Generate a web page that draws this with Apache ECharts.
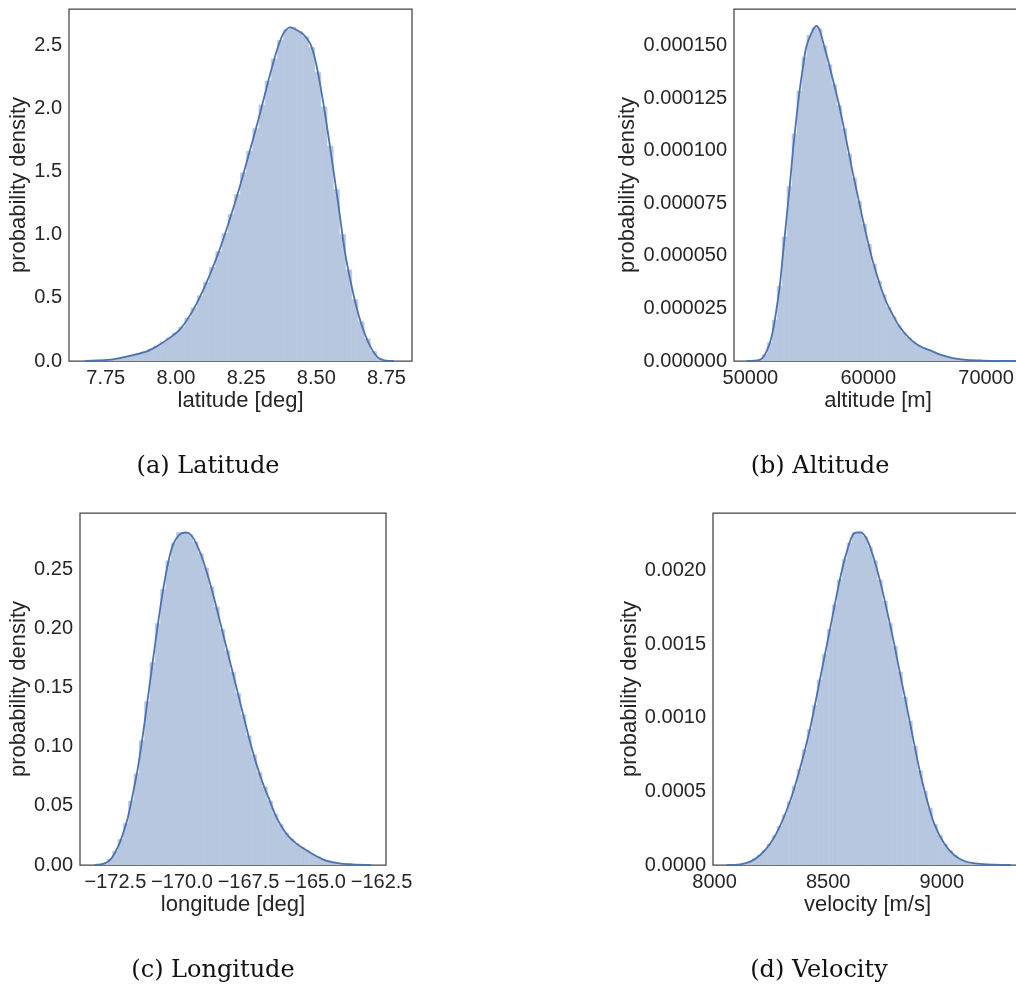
<!DOCTYPE html>
<html>
<head>
<meta charset="utf-8">
<script src="https://cdn.jsdelivr.net/npm/echarts@6/dist/echarts.min.js"></script>
<style>
html,body{margin:0;padding:0;background:#fff;}
#chart{width:1016px;height:992px;}
</style>
</head>
<body>
<div id="chart"></div>
<script>
// ---------------- DATA ----------------
// (a) Latitude
const latBinStart = 7.68, latBinWidth = 0.022;
const latHist = [0.002,0.004,0.007,0.010,0.014,0.022,0.034,0.046,0.058,0.071,0.093,0.118,0.150,0.183,0.222,0.268,0.340,0.420,0.515,0.623,0.740,0.865,1.008,1.160,1.317,1.488,1.660,1.838,2.025,2.215,2.390,2.535,2.620,2.640,2.605,2.565,2.480,2.285,2.010,1.700,1.355,1.000,0.720,0.485,0.310,0.175,0.075,0.022,0.004,0.001];
const latKdeX = [7.676,7.72,7.776,7.823,7.894,7.929,7.970,8.012,8.047,8.083,8.118,8.153,8.189,8.224,8.259,8.295,8.330,8.360,8.383,8.407,8.430,8.454,8.478,8.495,8.513,8.531,8.554,8.578,8.601,8.625,8.649,8.672,8.696,8.719,8.743,8.778];
const latKdeY = [0.000,0.004,0.013,0.034,0.074,0.113,0.171,0.245,0.351,0.496,0.667,0.865,1.102,1.353,1.630,1.920,2.223,2.460,2.592,2.640,2.619,2.584,2.513,2.395,2.197,1.959,1.617,1.247,0.878,0.601,0.377,0.219,0.100,0.029,0.005,0.000];
const latXTicks = [7.75,8.00,8.25,8.50,8.75];
const latYTicks = [0,0.5,1.0,1.5,2.0,2.5];

// (b) Altitude
const altBinStart = 50600, altBinWidth = 420;
const altHist = [0.5e-6,3.0e-6,8.6e-6,19.5e-6,35.6e-6,59e-6,83e-6,108e-6,128.5e-6,144.5e-6,155e-6,158.5e-6,158e-6,150e-6,141e-6,131.5e-6,121.5e-6,110.5e-6,98.5e-6,87e-6,76e-6,65e-6,55.5e-6,46e-6,38e-6,31.5e-6,25.5e-6,21e-6,17e-6,13.5e-6,11e-6,9.2e-6,7.5e-6,6.2e-6,5.4e-6,4.3e-6,3.4e-6,2.6e-6,2.0e-6,1.4e-6,1.0e-6,0.7e-6,0.5e-6,0.4e-6,0.3e-6,0.2e-6,0.15e-6,0.1e-6,0.05e-6,0.03e-6];
const altKdeX = [49661,50791,51215,51638,51921,52203,52486,52768,53051,53333,53616,53898,54181,54463,54746,55169,55593,55876,56158,56582,57006,57429,57853,58277,58701,59124,59548,59972,60395,60960,61525,62090,62655,63503,64350,65198,66045,67175,68305,69718,71977,73000];
const altKdeY = [0,0.5e-6,2.9e-6,8.4e-6,14.7e-6,24.3e-6,35.4e-6,51.2e-6,67.1e-6,82.9e-6,100.4e-6,115.4e-6,128.9e-6,140.0e-6,149.5e-6,155.9e-6,159.4e-6,157.5e-6,151.9e-6,143.2e-6,133.7e-6,124.2e-6,113.1e-6,101.2e-6,89.3e-6,78.2e-6,67.1e-6,56.8e-6,47.3e-6,36.9e-6,28.2e-6,21.9e-6,16.3e-6,10.8e-6,7.1e-6,5.2e-6,3.2e-6,1.4e-6,0.5e-6,0.2e-6,0,0];
const altXTicks = [50000,60000,70000];
const altYTicks = [0,0.000025,0.00005,0.000075,0.0001,0.000125,0.00015];

// (c) Longitude
const lonBinStart = -173.0, lonBinWidth = 0.2;
const lonHist = [0.0014,0.0048,0.0115,0.0215,0.035,0.054,0.077,0.105,0.138,0.171,0.204,0.233,0.257,0.272,0.281,0.281,0.279,0.273,0.263,0.251,0.235,0.218,0.199,0.181,0.163,0.145,0.127,0.109,0.093,0.078,0.066,0.054,0.043,0.034,0.027,0.022,0.018,0.015,0.012,0.009,0.007,0.005,0.0035,0.0025,0.0015,0.001,0.0007,0.0004,0.0002,0.0001];
const lonKdeX = [-173.275,-172.9,-172.65,-172.4,-172.21,-172.025,-171.84,-171.65,-171.46,-171.275,-171.09,-170.9,-170.71,-170.525,-170.34,-170.09,-169.84,-169.65,-169.46,-169.21,-168.96,-168.71,-168.46,-168.21,-167.96,-167.71,-167.46,-167.21,-166.96,-166.71,-166.46,-166.09,-165.71,-165.34,-164.96,-164.59,-164.09,-163.59,-162.9];
const lonKdeY = [0,0.0014,0.0056,0.0155,0.0267,0.0408,0.0605,0.0830,0.1112,0.1422,0.1731,0.2041,0.2323,0.2548,0.2703,0.2793,0.2810,0.2787,0.2717,0.2576,0.2393,0.2182,0.1957,0.1731,0.1506,0.1281,0.1056,0.0859,0.0690,0.0549,0.0408,0.0267,0.0183,0.0127,0.0076,0.0037,0.0014,0.0006,0];
const lonXTicks = [-172.5,-170.0,-167.5,-165.0,-162.5];
const lonYTicks = [0,0.05,0.10,0.15,0.20,0.25];

// (d) Velocity
const velBinStart = 8100, velBinWidth = 22;
const velHist = [4e-6,11e-6,21e-6,41e-6,66e-6,100e-6,142e-6,199e-6,262e-6,342e-6,429e-6,536e-6,650e-6,783e-6,920e-6,1083e-6,1256e-6,1430e-6,1600e-6,1767e-6,1937e-6,2075e-6,2185e-6,2255e-6,2262e-6,2230e-6,2160e-6,2065e-6,1935e-6,1790e-6,1640e-6,1485e-6,1310e-6,1140e-6,975e-6,805e-6,640e-6,500e-6,385e-6,275e-6,200e-6,142e-6,98e-6,64e-6,40e-6,24e-6,15e-6,9e-6,5e-6,2e-6];
const velKdeX = [8054,8113,8157,8201,8246,8290,8334,8378,8422,8466,8510,8554,8584,8613,8643,8672,8701,8731,8760,8790,8819,8849,8878,8907,8937,8966,9010,9054,9099,9157,9231,9304];
const velKdeY = [0,4.5e-6,22.6e-6,67.9e-6,147e-6,271e-6,441e-6,667e-6,939e-6,1278e-6,1618e-6,1957e-6,2138e-6,2251e-6,2258e-6,2206e-6,2081e-6,1912e-6,1719e-6,1505e-6,1278e-6,1052e-6,826e-6,611e-6,430e-6,283e-6,147e-6,67.9e-6,27.1e-6,9e-6,2.3e-6,0];
const velXTicks = [8000,8500,9000];
const velYTicks = [0,0.0005,0.0010,0.0015,0.0020];

const captions = ['(a) Latitude','(b) Altitude','(c) Longitude','(d) Velocity'];
const xNames = ['latitude [deg]','altitude [m]','longitude [deg]','velocity [m/s]'];
const yName = 'probability density';

// ---------------- STYLE / LAYOUT ----------------
const LINE = '#4C72B0';
const FILL = '#b7c7df';
const TXT = '#262626';
const FONT = "'Liberation Sans', Arial, sans-serif";
const TICK_FS = 20, NAME_FS = 22;

const panels = [
  {grid:{left:69, top:9, width:343, height:352}, xMin:7.619, xMax:8.841, yMax:2.785,
   xT:latXTicks, yT:latYTicks, xF:v=>v.toFixed(2), yF:v=>v.toFixed(1), nameGapY:38,
   bs:latBinStart, bw:latBinWidth, h:latHist, kx:latKdeX, ky:latKdeY},
  {grid:{left:734, top:9, width:288, height:352}, xMin:48607, xMax:73050, yMax:0.0001675,
   xT:altXTicks, yT:altYTicks, xF:v=>String(v), yF:v=>v.toFixed(6), nameGapY:95,
   bs:altBinStart, bw:altBinWidth, h:altHist, kx:altKdeX, ky:altKdeY},
  {grid:{left:80, top:513, width:306, height:352}, xMin:-173.83, xMax:-162.335, yMax:0.2975,
   xT:lonXTicks, yT:lonYTicks, xF:v=>v.toFixed(1).replace('-','\u2212'), yF:v=>v.toFixed(2), nameGapY:48,
   bs:lonBinStart, bw:lonBinWidth, h:lonHist, kx:lonKdeX, ky:lonKdeY},
  {grid:{left:713, top:513, width:309, height:352}, xMin:7993, xMax:9353, yMax:0.00239,
   xT:velXTicks, yT:velYTicks, xF:v=>String(v), yF:v=>v.toFixed(4), nameGapY:72,
   bs:velBinStart, bw:velBinWidth, h:velHist, kx:velKdeX, ky:velKdeY}
];
const captionPos = [[208,467],[820,467],[213,971],[819,971]];

const option = {
  animation:false,
  backgroundColor:'#fff',
  grid:[], xAxis:[], yAxis:[], series:[],
  graphic:[]
};

panels.forEach((p,i)=>{
  option.grid.push(Object.assign({show:true, borderColor:'#444', borderWidth:1.25, backgroundColor:'transparent', containLabel:false, outerBoundsMode:'none'}, p.grid));
  option.xAxis.push({
    type:'value', gridIndex:i, min:p.xMin, max:p.xMax,
    name:xNames[i], nameLocation:'middle', nameGap:29,
    nameTextStyle:{fontSize:NAME_FS, color:TXT, fontFamily:FONT},
    axisLine:{show:false}, axisTick:{show:false}, splitLine:{show:false},
    axisLabel:{customValues:p.xT, formatter:p.xF, fontSize:TICK_FS, color:TXT, fontFamily:FONT, margin:7, showMinLabel:true, showMaxLabel:true, hideOverlap:false}
  });
  option.yAxis.push({
    type:'value', gridIndex:i, min:0, max:p.yMax,
    name:yName, nameLocation:'middle', nameGap:p.nameGapY, nameRotate:90,
    nameTextStyle:{fontSize:NAME_FS, color:TXT, fontFamily:FONT},
    axisLine:{show:false}, axisTick:{show:false}, splitLine:{show:false},
    axisLabel:{customValues:p.yT, formatter:p.yF, fontSize:TICK_FS, color:TXT, fontFamily:FONT, margin:7, hideOverlap:false}
  });
  const bins = p.h.map((v,k)=>[p.bs + k*p.bw, p.bs + (k+1)*p.bw, v]);
  option.series.push({
    type:'custom', xAxisIndex:i, yAxisIndex:i, clip:true, silent:true,
    encode:{x:[0,1], y:2},
    data:bins,
    renderItem:function(params, api){
      const a = api.coord([api.value(0), 0]);
      const b = api.coord([api.value(1), api.value(2)]);
      return {type:'rect', shape:{x:a[0], y:b[1], width:b[0]-a[0], height:a[1]-b[1]}, style:{fill:FILL, stroke:FILL, lineWidth:0.8}};
    }
  });
  option.series.push({
    type:'line', xAxisIndex:i, yAxisIndex:i, clip:true, silent:true,
    data:p.kx.map((x,k)=>[x, p.ky[k]]),
    showSymbol:false, symbol:'none', smooth:0.3,
    lineStyle:{color:LINE, width:1.8}
  });
  option.graphic.push({
    type:'text', x:captionPos[i][0], y:captionPos[i][1],
    style:{text:captions[i], textAlign:'center', textVerticalAlign:'middle', fontSize:24, fontFamily:"'DejaVu Serif', serif", fill:'#111'}
  });
});

const chart = echarts.init(document.getElementById('chart'), null, {renderer:'canvas'});
chart.setOption(option);
</script>
</body>
</html>
